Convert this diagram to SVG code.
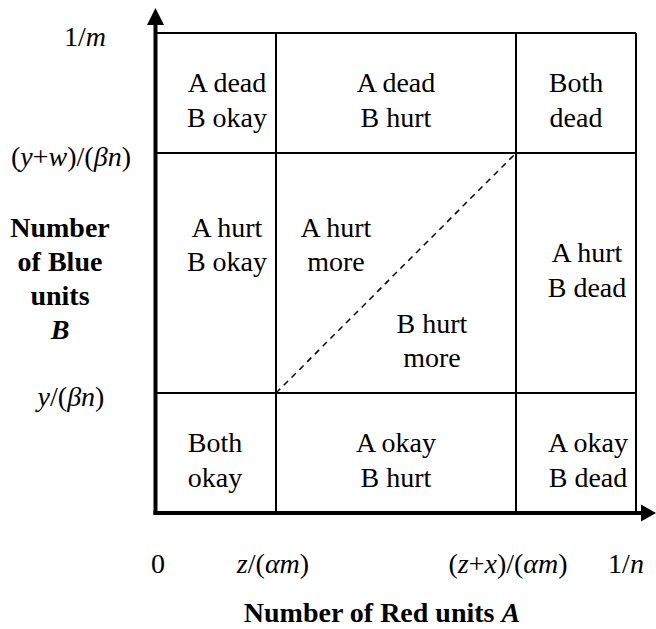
<svg xmlns="http://www.w3.org/2000/svg" width="656" height="629" viewBox="0 0 656 629">
<rect width="656" height="629" fill="#fff"/>
<g id="connectors" stroke="#000" fill="none">
<line stroke-width="2" x1="155" y1="33" x2="636" y2="33"/>
<line stroke-width="2" x1="155" y1="153" x2="636" y2="153"/>
<line stroke-width="2" x1="155" y1="393" x2="636" y2="393"/>
<line stroke-width="2" x1="276" y1="33" x2="276" y2="513"/>
<line stroke-width="2" x1="516" y1="33" x2="516" y2="513"/>
<line stroke-width="2" x1="636" y1="33" x2="636" y2="513"/>
<line x1="276" y1="393" x2="516" y2="153" stroke-width="1.5" stroke-dasharray="6,5"/>
<line stroke-width="4" x1="155.5" y1="515" x2="155.5" y2="22"/>
<polygon points="155.5,8 147,25 164,25" fill="#000" stroke="none"/>
<line stroke-width="4" x1="153.5" y1="513" x2="643" y2="513"/>
<polygon points="656,513 641,504.5 641,521.5" fill="#000" stroke="none"/>
</g>
<g font-size="28" text-anchor="middle" fill="#000">
<g id="cell-dead-okay"><text font-family="Times New Roman" x="227" y="92">A dead</text><text font-family="Times New Roman" x="227" y="127">B okay</text></g>
<g id="cell-dead-hurt"><text font-family="Times New Roman" x="396" y="92">A dead</text><text font-family="Times New Roman" x="396" y="127">B hurt</text></g>
<g id="cell-both-dead"><text font-family="Times New Roman" x="576" y="92">Both</text><text font-family="Times New Roman" x="576" y="127">dead</text></g>
<g id="cell-hurt-okay"><text font-family="Times New Roman" x="227" y="237">A hurt</text><text font-family="Times New Roman" x="227" y="271">B okay</text></g>
<g id="cell-a-hurt-more"><text font-family="Times New Roman" x="336" y="237">A hurt</text><text font-family="Times New Roman" x="336" y="271">more</text></g>
<g id="cell-b-hurt-more"><text font-family="Times New Roman" x="432" y="333">B hurt</text><text font-family="Times New Roman" x="432" y="367">more</text></g>
<g id="cell-hurt-dead"><text font-family="Times New Roman" x="587" y="262">A hurt</text><text font-family="Times New Roman" x="587" y="297">B dead</text></g>
<g id="cell-both-okay"><text font-family="Times New Roman" x="215" y="452">Both</text><text font-family="Times New Roman" x="215" y="487">okay</text></g>
<g id="cell-okay-hurt"><text font-family="Times New Roman" x="396" y="452">A okay</text><text font-family="Times New Roman" x="396" y="487">B hurt</text></g>
<g id="cell-okay-dead"><text font-family="Times New Roman" x="588" y="452">A okay</text><text font-family="Times New Roman" x="588" y="487">B dead</text></g>
<g id="y-labels">
<text font-family="Times New Roman" x="85" y="46">1/<tspan font-style="italic">m</tspan></text>
<text font-family="Times New Roman" x="71" y="166">(<tspan font-style="italic">y</tspan>+<tspan font-style="italic">w</tspan>)/(<tspan font-style="italic">&#946;n</tspan>)</text>
<text font-family="Times New Roman" x="71" y="406"><tspan font-style="italic">y</tspan>/(<tspan font-style="italic">&#946;n</tspan>)</text>
</g>
<g id="y-title" font-weight="bold">
<text font-family="Times New Roman" x="60" y="237">Number</text>
<text font-family="Times New Roman" x="60" y="271">of Blue</text>
<text font-family="Times New Roman" x="60" y="305">units</text>
<text font-family="Times New Roman" font-style="italic" x="60" y="339">B</text>
</g>
<g id="x-labels">
<text font-family="Times New Roman" x="158" y="573">0</text>
<text font-family="Times New Roman" x="273" y="573"><tspan font-style="italic">z</tspan>/(<tspan font-style="italic">&#945;m</tspan>)</text>
<text font-family="Times New Roman" x="508" y="573">(<tspan font-style="italic">z</tspan>+<tspan font-style="italic">x</tspan>)/(<tspan font-style="italic">&#945;m</tspan>)</text>
<text font-family="Times New Roman" x="626" y="573">1/<tspan font-style="italic">n</tspan></text>
</g>
<g id="x-title">
<text font-family="Times New Roman" font-weight="bold" x="382" y="622">Number of Red units <tspan font-style="italic">A</tspan></text>
</g>
</g>
</svg>
